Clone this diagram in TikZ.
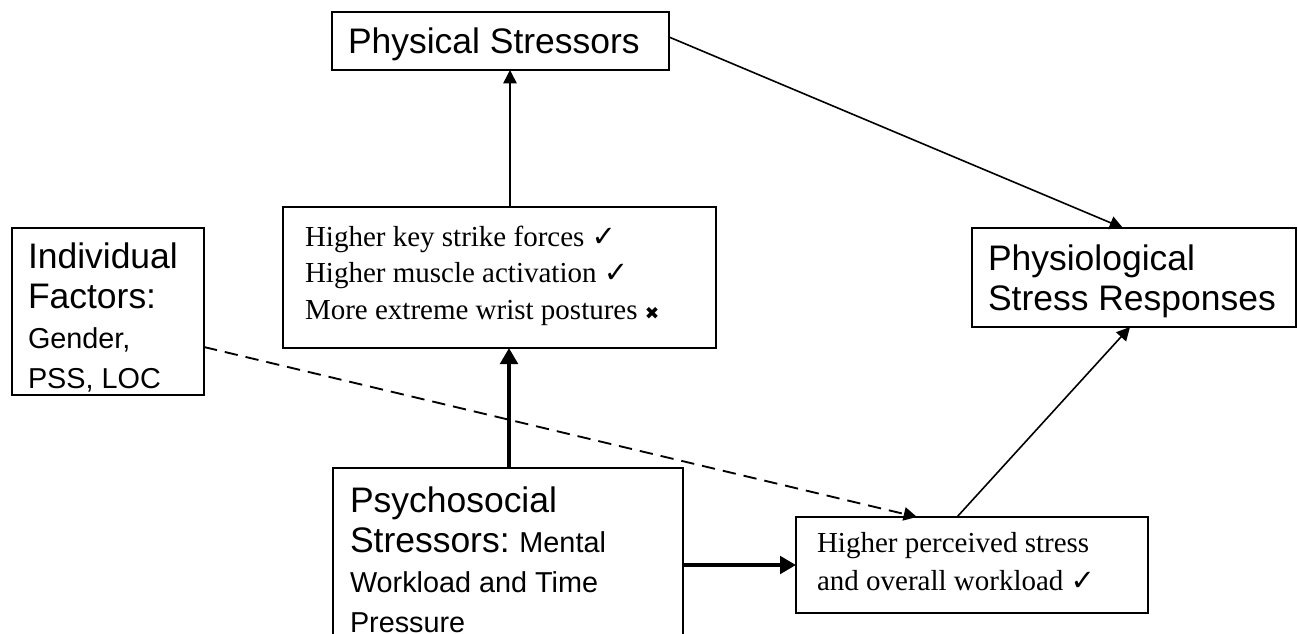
\documentclass[tikz,border=0pt]{standalone}
\usepackage{fontspec}
\setmainfont{Liberation Sans}
\newfontfamily\tmsfam{Liberation Serif}
\newfontfamily\symfam{DejaVu Sans}
\usetikzlibrary{arrows.meta}
\newcommand\normsp{\frenchspacing\spaceskip=0pt\xspaceskip=0pt\relax}
\newcommand\bigfnt{\fontsize{26.6}{30}\selectfont}
\newcommand\smfnt{\fontsize{21.6}{30}\selectfont}
\newcommand\tmfnt{\tmsfam\fontsize{21.75}{27.5}\selectfont}
\newcommand\tmfntb{\tmsfam\fontsize{21.75}{29}\selectfont}
\newcommand\ckmark{{\symfam\bfseries ✓}}
\newcommand\xkmark{{\symfam\fontsize{13}{13}\selectfont ✖}}
\tikzset{
  box/.style={draw, line width=1.2pt, outer sep=0pt, inner ysep=0pt, anchor=north west, align=left},
  thinarr/.style={line width=1.2pt, -{Triangle[length=10pt,width=10pt]}},
  thickarr/.style={line width=3.5pt, -{Triangle[length=12pt,width=13pt]}},
  dasharr/.style={line width=1.4pt, dash pattern=on 10pt off 6pt, -{Triangle[length=10pt,width=10pt]}}
}
\begin{document}
\begin{tikzpicture}[x=0.75pt, y=-0.75pt]
\useasboundingbox (0,0) rectangle (1298,633);
% boxes
\node[box, font=\bigfnt, inner xsep=12pt, text width=228.75pt, text height=30.75pt, text depth=12.75pt] (phys) at (332,12)
  {\normsp Physical Stressors};
\node[box, font=\tmfnt, inner xsep=16.5pt, text width=291.75pt, text height=29.25pt, text depth=76.5pt] (key) at (283,207)
  {\normsp\mbox{Higher key strike forces \ckmark}\\ \mbox{Higher muscle activation \ckmark}\\ \mbox{More extreme wrist postures \xkmark}};
\node[box, font=\bigfnt, inner xsep=12pt, text width=120pt, text height=30pt, text depth=95.25pt] (indiv) at (12,228)
  {\normsp Individual\\ Factors:\\ \smfnt Gender,\\ PSS, LOC};
\node[box, font=\bigfnt, inner xsep=12pt, text width=219pt, text height=31.5pt, text depth=42.75pt] (physio) at (972,228)
  {\normsp\mbox{Physiological}\\ \mbox{Stress Responses}};
\node[box, font=\tmfntb, inner xsep=15.75pt, text width=232.5pt, text height=26.25pt, text depth=45.75pt] (perc) at (796,517)
  {\normsp\mbox{Higher perceived stress}\\ \mbox{and overall workload \ckmark}};
\node[box, font=\bigfnt, draw=none, inner xsep=12.75pt, text width=237pt, text height=33pt, text depth=102pt] (psycho) at (333,468)
  {\normsp Psychosocial\\ \mbox{Stressors: {\smfnt Mental}}\\ \smfnt Workload and Time\\ Pressure};
\draw[line width=1.2pt] (psycho.south west) -- (psycho.north west) -- (psycho.north east) -- (psycho.south east);
% connectors
\draw[thinarr] (key.north -| 510,0) -- (phys.south -| 510,0);
\draw[thinarr] (phys.east |- 0,37) -- (physio.north -| 1123,0);
\draw[thickarr] (psycho.north -| 509,0) -- (key.south -| 509,0);
\draw[thickarr] (psycho.east |- 0,565) -- (perc.west |- 0,565);
\draw[dasharr] (indiv.east |- 0,347) -- (perc.north -| 917,0);
\draw[thinarr] (perc.north -| 957,0) -- (physio.south -| 1130,0);
\end{tikzpicture}
\end{document}
